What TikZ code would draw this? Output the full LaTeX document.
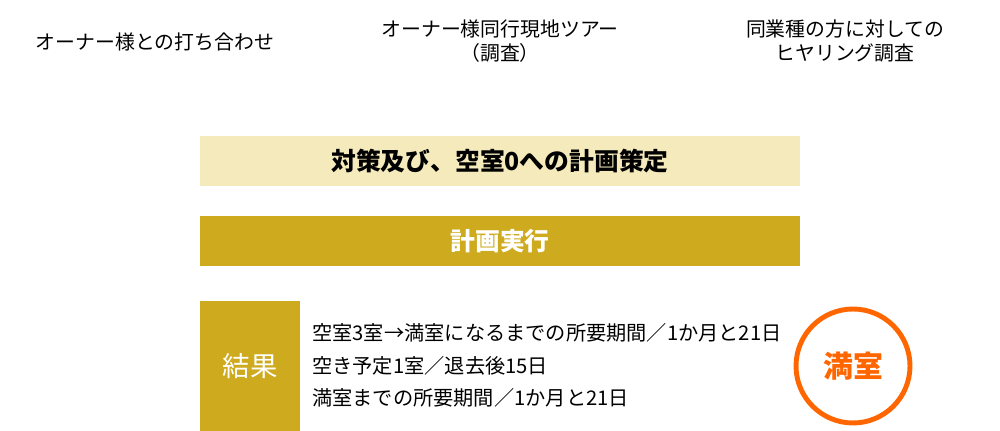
\documentclass[tikz,border=0pt]{standalone}
\usepackage{fontspec}
\setmainfont{Noto Sans CJK JP}
\usetikzlibrary{positioning}
\definecolor{paleGold}{RGB}{245,234,187}
\definecolor{gold}{RGB}{206,170,30}
\definecolor{ringOrange}{RGB}{255,102,0}
\tikzset{
	bar/.style={minimum width=12cm,minimum height=1cm,inner sep=0pt,font=\fontsize{14.1}{16}\selectfont\bfseries},
	topic/.style={align=center,font=\fontsize{11.3}{13.6}\selectfont},
	resline/.style={anchor=west,inner sep=0pt,font=\fontsize{11.5}{13}\selectfont}
}

\begin{document}
\begin{tikzpicture}[x=0.02cm,y=-0.02cm]
	\useasboundingbox (0,0) rectangle (1000,431);
	\node(meet) [topic] at (155,42) {オーナー様との打ち合わせ};
	\node(tour) [topic] at (500,41) {オーナー様同行現地ツアー\\（調査）};
	\node(hear) [topic] at (845,41) {同業種の方に対しての\\ヒヤリング調査};
	\node(plan) [bar,fill=paleGold] at (500,161) {対策及び、空室0への計画策定};
	\node(exec) [bar,fill=gold,text=white] at (500,241) {計画実行};
	\node(res) [fill=gold,text=white,minimum width=2cm,minimum height=2.6cm,inner sep=0pt,font=\fontsize{15.6}{18}\selectfont] at (250,366) {結果};
	\node(r1) [resline] at (312,333) {空室3室→満室になるまでの所要期間／1か月と21日};
	\node(r2) [resline,below=0.65cm of r1.west,anchor=west] {空き予定1室／退去後15日};
	\node(r3) [resline,below=0.65cm of r2.west,anchor=west] {満室までの所要期間／1か月と21日};
	\node(full) [circle,draw=ringOrange,line width=2.8pt,minimum size=2.28cm,text=ringOrange,font=\fontsize{17}{19}\selectfont\bfseries] at (853,366) {満室};
\end{tikzpicture}
\end{document}
